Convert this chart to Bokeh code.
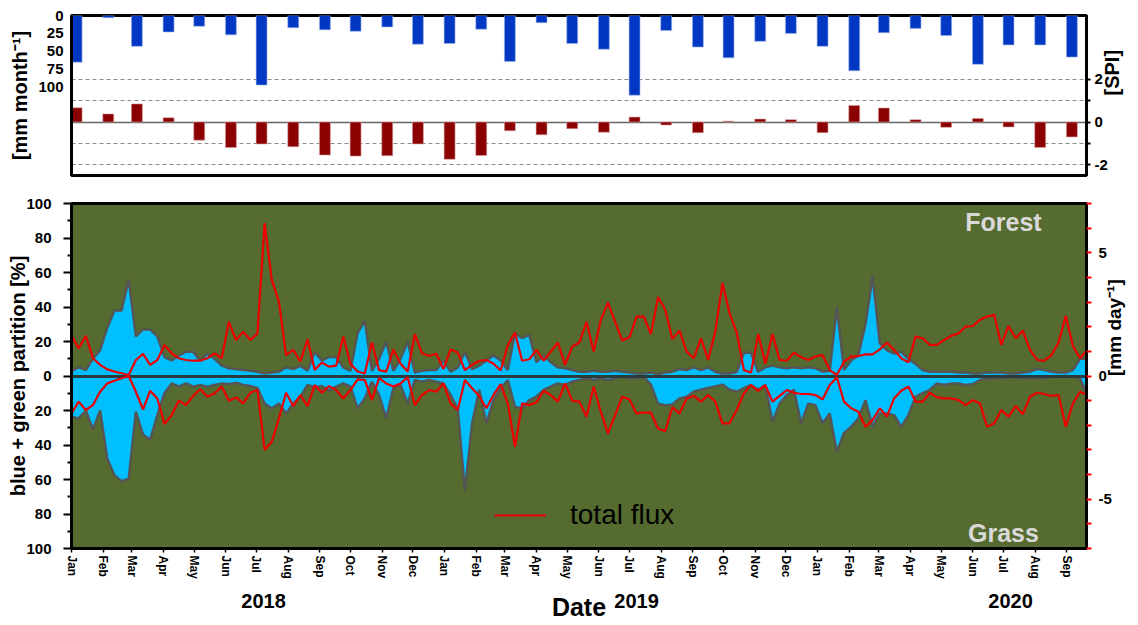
import math
import pandas as pd
from bokeh.plotting import figure
from bokeh.models import (Range1d, LinearAxis, FixedTicker, Legend, LegendItem, Label,
                          CustomJSTickFormatter)
from bokeh.layouts import column
from bokeh.embed import file_html
from bokeh.resources import INLINE

FONT = "Liberation Sans"

# ---------------- data ----------------
month_names = ["Jan", "Feb", "Mar", "Apr", "May", "Jun", "Jul", "Aug", "Sep", "Oct", "Nov", "Dec"]
year_labels = ["2018", "2019", "2020"]

# monthly precipitation [mm month-1], Jan 2018 .. Sep 2020
precip_mm = [65, 3, 43, 23, 15, 27, 97, 17, 20, 22, 16, 40,
             39, 19, 64, 10, 39, 47, 111, 21, 44, 59, 36, 25,
             43, 77, 24, 18, 28, 68, 41, 41, 58]
# monthly SPI
spi = [0.67, 0.38, 0.85, 0.2, -0.85, -1.2, -1.03, -1.16, -1.55, -1.6, -1.58, -1.03,
       -1.75, -1.57, -0.41, -0.6, -0.31, -0.48, 0.23, -0.14, -0.5, 0.04, 0.14, 0.11,
       -0.5, 0.78, 0.66, 0.11, -0.25, 0.17, -0.23, -1.19, -0.7]

# weekly blue-water partition [%] - forest (upper half)
forest_blue = [3, 5, 3.5, 10, 15, 28, 38, 38, 56, 23,
               27, 27, 23, 11, 9, 12, 14, 14, 9, 13,
               10, 6, 4.5, 4, 3.5, 3, 2.5, 1.5, 2, 2.5,
               5, 4, 6, 3, 14, 9, 11, 11, 5, 3,
               25, 32, 3, 10, 20, 3, 10, 20, 2, 3,
               3.5, 3.5, 9, 2.5, 5, 14, 4, 6, 9, 12,
               9, 3.5, 25, 22, 24, 8, 12, 8, 5, 4.5,
               3.5, 2.5, 2.5, 3, 2.5, 2.5, 3, 2.5, 2, 1.5,
               1.5, 2, 1, 2, 2.5, 4, 3.5, 5, 3.5, 5,
               2.5, 1.5, 1.5, 2.5, 13.5, 13.5, 2.5, 5, 6, 5,
               4.5, 5, 4.5, 5, 4.5, 2.5, 3, 40, 3.5, 9,
               12, 30, 58, 19, 15, 13, 14, 10, 7, 3.5,
               2.5, 2.5, 2.5, 2.5, 2, 2, 1.5, 1.5, 2, 2,
               2, 1.5, 1.5, 2, 2.5, 4, 3.5, 2.5, 2, 2,
               3.5, 10, 10]
# weekly total flux [mm day-1] - forest
forest_flux = [1.63, 1.12, 1.63, 0.72, 0.45, 0.27, 0.18, 0.11, 0.04, 0.65,
               0.9, 0.45, 0.65, 1.26, 0.92, 0.72, 0.65, 0.62, 0.62, 0.72,
               0.92, 0.72, 2.2, 1.46, 1.8, 1.46, 1.73, 6.2, 3.9, 3.02,
               0.85, 1.06, 0.58, 1.49, 0.24, 0.55, 0.38, 0.42, 1.6, 0.5,
               0.18, 0.1, 1.36, 0.24, 0.18, 1.08, 0.5, 0.18, 1.7, 0.92,
               0.81, 0.9, 0.28, 1.08, 0.95, 0.24, 0.45, 0.62, 0.65, 0.5,
               0.22, 1.26, 1.76, 0.62, 0.68, 1.06, 0.62, 0.99, 1.36, 0.45,
               1.19, 1.36, 2.2, 0.99, 2.28, 2.98, 2.2, 1.44, 1.57, 2.41,
               2.41, 1.7, 3.2, 2.7, 1.5, 1.84, 0.99, 0.72, 1.53, 0.65,
               1.8, 3.77, 2.55, 1.76, 0.24, 0.14, 1.7, 0.5, 1.7, 0.65,
               0.62, 0.95, 0.76, 0.65, 0.79, 0.85, 0.24, 0.04, 0.58, 0.79,
               0.81, 0.88, 0.88, 1.08, 1.36, 1.06, 0.72, 0.56, 1.6, 1.53,
               1.26, 1.26, 1.46, 1.63, 1.73, 2.0, 2.03, 2.28, 2.41, 2.48,
               1.26, 2.03, 1.53, 1.84, 1.06, 0.65, 0.62, 0.85, 1.36, 2.44,
               1.22, 0.72, 1.06]
# weekly blue-water partition [%] - grass (lower half, drawn downward)
grass_blue = [23.6, 24.6, 20, 31, 20, 48, 57.6, 61, 59.5, 20.7,
              34, 37, 22.7, 10, 4.3, 6.2, 4.3, 6.2, 5.2, 6.2,
              5.2, 4.3, 4.7, 3.9, 5.2, 5.8, 7, 16, 18.8, 16,
              21.7, 16, 12, 5.2, 6.6, 5.8, 8.5, 6.2, 4.3, 6.2,
              18.8, 13, 3.3, 11, 24.6, 7, 5.2, 16, 2.3, 3.3,
              2.3, 3.3, 4.3, 11, 18.8, 66.7, 27.5, 8, 27.5, 14,
              7, 2.3, 17.8, 18.8, 14, 12, 8, 6.2, 4.3, 5.2,
              3.3, 2.3, 1.4, 2.3, 1.4, 2.3, 1.4, 0.5, 1.4, 1.4,
              0.5, 5, 16, 17, 16.5, 13, 12, 9, 8, 7,
              6, 5, 8, 9, 7, 5.2, 8, 5.2, 26.5, 16,
              11, 8, 27.5, 16, 17, 27.5, 21.7, 44, 33, 29.5,
              24.6, 14, 29.5, 21.7, 21.7, 22.7, 29.5, 22.7, 12, 10,
              8, 4.3, 5.2, 4.3, 4.3, 5.2, 4.7, 2.3, 1.4, 1.4,
              1.4, 0.8, 0.8, 1.4, 1.4, 1.4, 1.4, 0.4, 0.4, 0,
              0.4, 1.4, 11]
# weekly total flux [mm day-1] - grass (negative axis)
grass_flux = [-1.52, -1.04, -1.38, -1.18, -0.64, -0.3, -0.19, -0.09, 0, -0.64,
              -1.36, -0.6, -0.91, -1.95, -1.59, -1.0, -1.18, -0.81, -0.54, -0.84,
              -0.7, -0.43, -1.0, -0.87, -1.11, -0.68, -0.57, -3.0, -2.67, -1.72,
              -0.68, -1.22, -0.77, -1.22, -0.37, -0.68, -0.41, -0.57, -0.91, -0.57,
              -0.14, -0.16, -0.98, -0.09, -0.3, -0.43, -0.3, -0.05, -1.18, -0.77,
              -0.57, -0.64, -0.3, -1.11, -1.38, -0.16, -0.5, -0.81, -1.31, -0.77,
              -0.33, -1.11, -2.87, -1.11, -1.18, -1.07, -0.6, -0.77, -1.04, -0.3,
              -1.0, -1.04, -1.65, -0.43, -1.45, -2.33, -1.59, -0.84, -0.95, -1.52,
              -1.49, -1.49, -2.13, -2.24, -1.27, -1.52, -0.91, -0.81, -1.04, -0.77,
              -1.04, -1.92, -1.92, -1.38, -0.7, -0.37, -0.6, -0.37, -1.04, -0.81,
              -0.57, -0.68, -0.73, -0.73, -0.77, -0.95, -0.37, -0.05, -1.04, -1.31,
              -1.45, -2.06, -1.79, -1.31, -1.65, -0.91, -0.6, -0.43, -1.04, -1.04,
              -0.68, -0.87, -0.91, -0.91, -0.98, -1.18, -0.98, -1.11, -2.06, -1.92,
              -1.38, -1.65, -1.22, -1.55, -0.84, -0.68, -0.73, -0.81, -0.77, -2.06,
              -1.11, -0.64, -0.77]

# ---------------- derived x values ----------------
weeks = pd.date_range("2018-01-01", periods=len(forest_blue), freq="7D")
months = pd.date_range("2018-01-01", periods=len(precip_mm), freq="MS")
bar_x = months + pd.Timedelta(days=5)
DAY_MS = 86400000.0
grass_blue_neg = [-v for v in grass_blue]

x_start = pd.Timestamp("2018-01-01")
x_end = x_start + pd.Timedelta(days=993.3)
xr = Range1d(start=x_start.to_pydatetime(), end=x_end.to_pydatetime())

month_ms = [m.timestamp() * 1000 for m in months]
year_ms = [pd.Timestamp(f"{y}-07-08").timestamp() * 1000 for y in year_labels]

W = 1138
GREEN = "#556B2F"
CYAN = "#00BFFF"
GRAYLINE = "#555555"
RED = "#EE0000"


def style_axis(ax, label_size="15px"):
    ax.major_label_text_font = FONT
    ax.major_label_text_font_style = "bold"
    ax.major_label_text_font_size = label_size
    ax.major_label_text_color = "black"
    ax.axis_label_text_font = FONT
    ax.axis_label_text_font_style = "bold"
    ax.axis_label_text_font_size = "20px"
    ax.axis_label_text_color = "black"
    ax.axis_line_width = 3
    ax.axis_line_color = "black"


def upward_label(ax):
    # right-hand axis titles read bottom-to-top, as in the reference
    if "axis_label_orientation" in ax.properties():
        ax.axis_label_orientation = math.pi / 2


# ---------------- top panel ----------------
top = figure(width=W, height=190, x_range=xr, y_range=Range1d(-2.51, 5.0),
             x_axis_location=None, y_axis_location="right",
             output_backend="svg", toolbar_location=None,
             min_border_left=71, min_border_right=50, min_border_top=15, min_border_bottom=15)
top.extra_y_ranges = {"mm": Range1d(start=223, end=0)}
top.outline_line_color = "black"
top.outline_line_width = 3
top.xgrid.visible = False
top.ygrid[0].ticker = FixedTicker(ticks=[-2, -1, 1, 2])
top.ygrid[0].grid_line_dash = "4 3"
top.ygrid[0].grid_line_color = "#8c8c8c"
top.ygrid[0].grid_line_width = 1.2

ra = top.yaxis[0]
ra.ticker = FixedTicker(ticks=[-2, -1, 0, 1, 2], minor_ticks=[])
ra.formatter = CustomJSTickFormatter(code="return (Math.abs(tick) % 2 === 0) ? String(tick) : '';")
ra.axis_label = "[SPI]"
style_axis(ra)
ra.major_tick_out = 4
ra.major_tick_in = 0
ra.major_tick_line_width = 2
ra.major_label_standoff = 4
ra.axis_label_standoff = 1
upward_label(ra)

la = LinearAxis(y_range_name="mm", ticker=FixedTicker(ticks=[0, 25, 50, 75, 100], minor_ticks=[]),
                axis_label="[mm month\u207b\u00b9]")
style_axis(la)
la.major_tick_out = 0
la.major_tick_in = 0
la.major_label_standoff = 8
la.axis_label_standoff = 4
top.add_layout(la, "left")

top.vbar(x=bar_x, width=10.7 * DAY_MS, top=0, bottom=precip_mm, y_range_name="mm",
         fill_color="#0038C4", line_color="#9fb3e8", line_width=0.6)
top.hspan(y=[0], line_color="#666666", line_width=1.5)
top.vbar(x=bar_x, width=10.7 * DAY_MS, top=spi, bottom=0,
         fill_color="#8B0000", line_color="#d9a0a0", line_width=0.6)

# ---------------- bottom panel ----------------
bot = figure(width=W, height=435, x_range=xr, y_range=Range1d(-100, 100), x_axis_type="datetime",
             output_backend="svg", toolbar_location=None, background_fill_color=GREEN,
             min_border_left=71, min_border_right=50, min_border_top=13, min_border_bottom=77)
bot.extra_y_ranges = {"flux": Range1d(-7, 7)}
bot.grid.visible = False
bot.outline_line_color = "black"
bot.outline_line_width = 3

ya = bot.yaxis[0]
ya.ticker = FixedTicker(ticks=list(range(-100, 101, 20)), minor_ticks=list(range(-90, 100, 20)))
ya.formatter = CustomJSTickFormatter(code="return String(Math.abs(tick));")
ya.axis_label = "blue + green partition [%]"
style_axis(ya)
ya.major_tick_out = 8
ya.major_tick_in = 0
ya.minor_tick_out = 4
ya.minor_tick_in = 0
ya.major_tick_line_width = 2
ya.minor_tick_line_width = 2
ya.major_label_standoff = 12
ya.axis_label_standoff = -6

fa = LinearAxis(y_range_name="flux", ticker=FixedTicker(ticks=list(range(-7, 8)), minor_ticks=[]),
                axis_label="[mm day\u207b\u00b9]")
fa.formatter = CustomJSTickFormatter(code="return (tick % 5 === 0) ? String(tick) : '';")
style_axis(fa)
fa.axis_label_text_font_size = "19px"
fa.major_tick_out = 5
fa.major_tick_in = 0
fa.major_tick_line_color = "red"
fa.major_tick_line_width = 2
fa.major_label_standoff = 7
fa.axis_label_standoff = 0
upward_label(fa)
bot.add_layout(fa, "right")

xa = bot.xaxis[0]
xa.ticker = FixedTicker(ticks=month_ms, minor_ticks=[])
xa.formatter = CustomJSTickFormatter(args=dict(names=month_names),
                                     code="return names[new Date(tick).getUTCMonth()];")
style_axis(xa, "12px")
xa.major_label_orientation = "vertical"
xa.major_tick_out = 4
xa.major_tick_in = 0
xa.major_tick_line_width = 1.5
xa.major_label_standoff = 3

ya2 = LinearAxis(ticker=FixedTicker(ticks=year_ms, minor_ticks=[]), axis_label="Date")
ya2.formatter = CustomJSTickFormatter(
    args=dict(labels=year_labels, t=year_ms),
    code="let b=0; for (let k=0;k<t.length;k++){ if (Math.abs(t[k]-tick) < Math.abs(t[b]-tick)) b=k; } return labels[b];")
style_axis(ya2, "20px")
ya2.axis_label_text_font_size = "25px"
ya2.axis_line_color = None
ya2.major_tick_line_color = None
ya2.major_tick_out = 0
ya2.major_tick_in = 0
ya2.major_label_standoff = 12
ya2.axis_label_standoff = -18
bot.add_layout(ya2, "below")

bot.varea(x=weeks, y1=0, y2=forest_blue, fill_color=CYAN)
bot.varea(x=weeks, y1=grass_blue_neg, y2=0, fill_color=CYAN)
bot.line(x=weeks, y=forest_blue, line_color=GRAYLINE, line_width=2.5)
bot.line(x=weeks, y=grass_blue_neg, line_color=GRAYLINE, line_width=2.5)
bot.hspan(y=[0], line_color="#2b3a3a", line_width=3)
rf = bot.line(x=weeks, y=forest_flux, y_range_name="flux", line_color=RED, line_width=2.2)
bot.line(x=weeks, y=grass_flux, y_range_name="flux", line_color=RED, line_width=2.2)

for txt, yy in (("Forest", 89), ("Grass", -91)):
    bot.add_layout(Label(x=pd.Timestamp("2020-07-01").timestamp() * 1000, y=yy, text=txt,
                         text_font=FONT, text_font_style="bold", text_font_size="25px",
                         text_color="#D9D9D9", text_align="center", text_baseline="middle"))

leg = Legend(items=[LegendItem(label="total flux", renderers=[rf])], location=(423, 17),
             border_line_color=None, background_fill_alpha=0, label_text_font_size="28px",
             label_text_font=FONT, label_text_color="black", glyph_width=52, glyph_height=32,
             label_standoff=24, padding=0, margin=0)
bot.add_layout(leg)

layout = column(top, bot, spacing=0)
open("out.html", "w").write(file_html(layout, INLINE))
